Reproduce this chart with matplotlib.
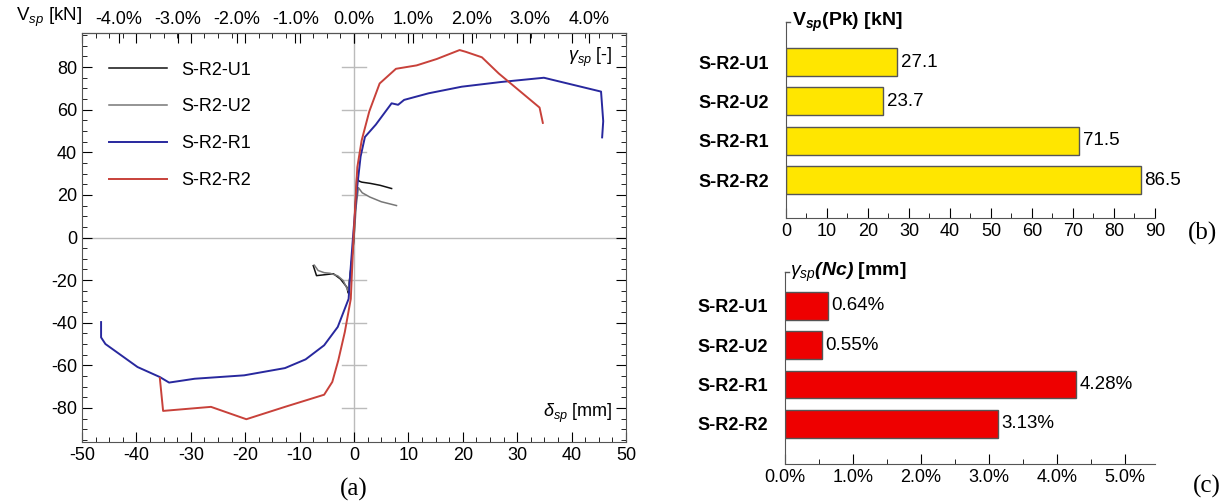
import numpy as np
import matplotlib.pyplot as plt
from matplotlib.ticker import MultipleLocator, FuncFormatter

plt.rcParams['font.family'] = ['Liberation Sans', 'DejaVu Sans']
plt.rcParams['axes.unicode_minus'] = False
plt.rcParams['mathtext.fontset'] = 'custom'
plt.rcParams['mathtext.rm'] = 'Liberation Sans'
plt.rcParams['mathtext.it'] = 'Liberation Sans:italic'
plt.rcParams['mathtext.bf'] = 'Liberation Sans:bold'
plt.rcParams['mathtext.bfit'] = 'Liberation Sans:italic:bold'

# hysteresis envelopes (delta mm, V kN)
u1_x = [-7.5, -6.9, -5.5, -3.8, -2.5, -1.3, -1.1, -0.6, 0.0, 0.3, 0.5, 0.9, 1.4, 3.0, 4.8, 6.9]
u1_y = [-13.2, -17.9, -17.5, -17.0, -19.5, -23.4, -26.0, -15.0, 0.0, 18.0, 28.4, 26.5, 26.0, 25.4, 24.5, 23.0]
u2_x = [-7.3, -6.6, -5.5, -4.4, -3.0, -2.0, -1.1, -0.6, 0.0, 0.4, 0.8, 1.5, 2.9, 5.0, 7.8]
u2_y = [-13.0, -15.5, -16.5, -16.8, -18.0, -20.2, -25.0, -15.0, 0.0, 15.0, 23.4, 21.0, 19.0, 16.8, 15.0]
r1_x = [-46.5, -46.5, -45.7, -39.8, -35.7, -34.0, -29.3, -20.2, -12.7, -8.9, -5.5, -3.0, -1.0,
        -0.7, -0.2, 0.5, 1.2, 2.0, 4.0, 6.9, 8.1, 9.2, 13.7, 19.8, 27.0, 34.9, 45.4, 45.8, 45.6]
r1_y = [-39.7, -46.9, -50.0, -60.8, -65.5, -68.1, -66.3, -64.7, -61.3, -57.2, -50.6, -42.0, -28.8,
        -17.0, 0.0, 22.0, 38.0, 47.2, 53.0, 63.0, 62.3, 64.6, 67.7, 70.8, 73.0, 75.0, 68.5, 54.6, 47.0]
r2_x = [-35.7, -35.1, -26.3, -19.8, -12.7, -5.5, -4.0, -2.9, -1.7, -0.6, -0.1, 0.6, 1.4,
        2.8, 4.7, 7.7, 11.5, 15.2, 19.4, 20.5, 23.5, 26.6, 34.1, 34.7]
r2_y = [-66.0, -81.4, -79.5, -85.3, -79.5, -73.8, -67.8, -57.7, -44.4, -28.8, 0.0, 33.0, 45.6,
        59.2, 72.3, 79.2, 80.8, 83.8, 88.0, 87.2, 84.6, 77.0, 61.0, 53.8]

specimens = ['S-R2-U1', 'S-R2-U2', 'S-R2-R1', 'S-R2-R2']
peak_load = [27.1, 23.7, 71.5, 86.5]
drift_nc = [0.64, 0.55, 4.28, 3.13]

fig = plt.figure(figsize=(12.3, 5.04), dpi=100)

# ---- (a) hysteresis envelope
ax = fig.add_axes([0.0667, 0.123, 0.4423, 0.8115])
ax.axhline(0, color='#bbbbbb', lw=1, zorder=0)
ax.axvline(0, color='#bbbbbb', lw=1, zorder=0)
for yy in [-80, -60, -40, -20, 20, 40, 60, 80]:
    ax.plot([-2.2, 2.2], [yy, yy], color='#bbbbbb', lw=1, zorder=0)

ax.plot(u1_x, u1_y, color='#111111', lw=1.1, label='S-R2-U1')
ax.plot(u2_x, u2_y, color='#777777', lw=1.1, label='S-R2-U2')
ax.plot(r1_x, r1_y, color='#28289e', lw=1.4, label='S-R2-R1')
ax.plot(r2_x, r2_y, color='#c8413a', lw=1.4, label='S-R2-R2')

ax.set_xlim(-50, 50)
ax.set_ylim(-96, 96)
ax.xaxis.set_major_locator(MultipleLocator(10))
ax.xaxis.set_minor_locator(MultipleLocator(2.5))
ax.yaxis.set_major_locator(MultipleLocator(20))
ax.yaxis.set_minor_locator(MultipleLocator(5))
ax.tick_params(which='both', direction='in', top=True, right=True, labelsize=13)
ax.tick_params(which='major', length=7)
ax.tick_params(which='minor', length=3.5)
for s in ax.spines.values():
    s.set_color('#555555')

sec = ax.secondary_xaxis('top', functions=(lambda d: d / 10.8, lambda g: g * 10.8))
sec.set_xticks([-4, -3, -2, -1, 0, 1, 2, 3, 4])
sec.xaxis.set_major_formatter(FuncFormatter(lambda v, p: '%.1f%%' % v))
sec.tick_params(direction='in', length=7, labelsize=13)

ax.legend(loc='upper left', bbox_to_anchor=(0.02, 0.97), frameon=False, fontsize=13,
          handlelength=3.2, labelspacing=1.1)
ax.text(0.0, 1.01, r'V$_{sp}$ [kN]', transform=ax.transAxes, ha='right', va='bottom', fontsize=13.5)
ax.text(0.975, 0.94, r'$\gamma_{sp}$ [-]', transform=ax.transAxes, ha='right', va='center', fontsize=13)
ax.text(0.975, 0.07, r'$\delta_{sp}$ [mm]', transform=ax.transAxes, ha='right', va='center', fontsize=13)
fig.text(0.288, 0.005, '(a)', ha='center', va='bottom', fontsize=18, family='Liberation Serif')


# ---- bar charts
def bar_panel(rect, values, color, xmax, major, minor, fmt, ylim, title):
    bx = fig.add_axes(rect)
    pos = np.arange(len(specimens))
    bx.barh(pos, values, height=0.71, color=color, edgecolor='#555555', lw=1)
    bx.set_ylim(*ylim)
    bx.set_xlim(0, xmax)
    bx.set_yticks(pos)
    bx.set_yticklabels(specimens, fontweight='bold', fontsize=13)
    bx.tick_params(axis='y', length=0, pad=12)
    bx.xaxis.set_major_locator(MultipleLocator(major))
    bx.xaxis.set_minor_locator(MultipleLocator(minor))
    bx.tick_params(axis='x', which='both', direction='in', labelsize=13)
    bx.tick_params(axis='x', which='major', length=7)
    bx.tick_params(axis='x', which='minor', length=3.5)
    bx.xaxis.set_major_formatter(FuncFormatter(fmt))
    for k in ['top', 'right']:
        bx.spines[k].set_visible(False)
    for k in ['left', 'bottom']:
        bx.spines[k].set_color('#555555')
    bx.plot([0, 0.012], [1, 1], transform=bx.transAxes, color='#555555', lw=1, clip_on=False)
    bx.text(0.015, 1.0, title, transform=bx.transAxes, ha='left', va='center',
            fontsize=14, fontweight='bold')
    return bx


bx = bar_panel([0.639, 0.5675, 0.300, 0.389], peak_load, '#ffe600', 90, 10, 5,
               lambda v, p: '%d' % v, (3.96, -1.02), r'V$_{\mathbfit{sp}}$(Pk) [kN]')
for i, v in enumerate(peak_load):
    bx.text(v + 0.9, i, '%.1f' % v, va='center', fontsize=13.5)
fig.text(0.978, 0.537, '(b)', ha='center', va='center', fontsize=18, family='Liberation Serif')

cx = bar_panel([0.638, 0.0794, 0.3008, 0.381], drift_nc, '#ee0000', 5.44, 1, 0.5,
               lambda v, p: '%.1f%%' % v, (4.02, -0.86), r'$\gamma_{sp}$$\mathbfit{(Nc)}$ [mm]')
for i, v in enumerate(drift_nc):
    cx.text(v + 0.05, i, '%.2f%%' % v, va='center', fontsize=13.5)
fig.text(0.981, 0.034, '(c)', ha='center', va='center', fontsize=18, family='Liberation Serif')

fig.savefig('out.png', dpi=100)
